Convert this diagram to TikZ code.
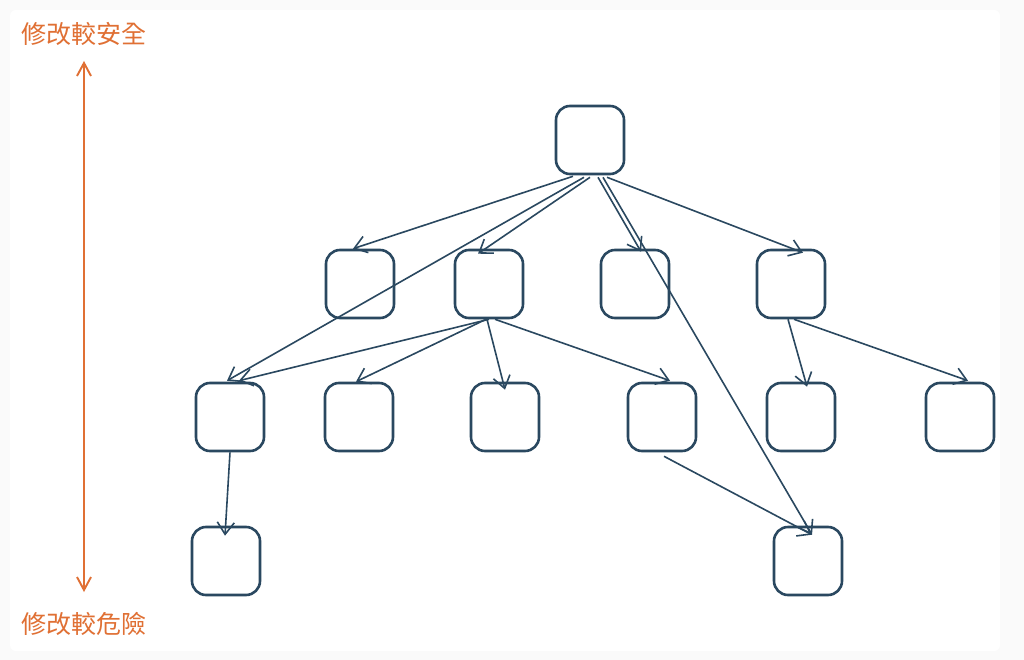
\documentclass[tikz,border=0pt]{standalone}
\usepackage{fontspec}
\newfontfamily\cjk{Noto Sans CJK TC}
\usetikzlibrary{arrows.meta}
\definecolor{ink}{RGB}{42,72,96}
\definecolor{accent}{RGB}{224,112,52}
\definecolor{outer}{RGB}{250,250,250}
\tikzset{
  box/.style={draw=ink, line width=2.6pt, rounded corners=14pt, minimum width=68pt, minimum height=68pt, inner sep=0pt},
  arr/.style={draw=ink, line width=1.6pt, -{Straight Barb[length=12pt,width=17pt,line width=1.6pt]}},
  safetyaxis/.style={draw=accent, line width=1.9pt, {Straight Barb[length=13pt,width=14pt,line width=1.9pt]}-{Straight Barb[length=13pt,width=14pt,line width=1.9pt]}},
  lbl/.style={text=accent, font=\cjk\fontsize{25pt}{28pt}\selectfont, anchor=west, inner sep=0pt}
}
\begin{document}
\begin{tikzpicture}[x=1pt,y=-1pt]
\fill[outer] (0,0) rectangle (1024,660);
\fill[white, rounded corners=6pt] (10,10) rectangle (1000,651);
\useasboundingbox (0,0) rectangle (1024,660);

% nodes
\node[box] (R) at (590,140) {};
\node[box] (A1) at (360,284) {};
\node[box] (A2) at (489,284) {};
\node[box] (A3) at (635,284) {};
\node[box] (A4) at (791,284) {};
\node[box] (B1) at (230,417) {};
\node[box] (B2) at (359,417) {};
\node[box] (B3) at (505,417) {};
\node[box] (B4) at (662,417) {};
\node[box] (B5) at (801,417) {};
\node[box] (B6) at (960,417) {};
\node[box] (C1) at (226,561) {};
\node[box] (C2) at (808,561) {};

% edges
\draw[arr] ([xshift=-17pt,yshift=-1pt]R.south) -- ([xshift=-7pt]A1.north);
\draw[arr] ([xshift=-6pt,yshift=-2pt]R.south) -- ([xshift=-3pt,yshift=1pt]B1.north);
\draw[arr] ([xshift=0pt,yshift=-2pt]R.south) -- ([xshift=-11pt,yshift=-5pt]A2.north);
\draw[arr] ([xshift=8pt,yshift=-2pt]R.south) -- ([xshift=6pt,yshift=-3pt]A3.north);
\draw[arr] ([xshift=13pt,yshift=-2pt]R.south) -- ([xshift=4pt,yshift=-9pt]C2.north);
\draw[arr] ([xshift=17pt,yshift=-2pt]R.south) -- ([xshift=12pt,yshift=-4pt]A4.north);
\draw[arr] ([xshift=0pt]A2.south) -- ([xshift=9pt,yshift=1pt]B1.north);
\draw[arr] ([xshift=-3pt]A2.south) -- ([xshift=-3pt]B2.north);
\draw[arr] ([xshift=-2pt]A2.south) -- ([xshift=0pt,yshift=-8pt]B3.north);
\draw[arr] ([xshift=6pt]A2.south) -- ([xshift=8pt,yshift=1pt]B4.north);
\draw[arr] ([xshift=-3pt]A4.south) -- ([xshift=6pt,yshift=-5pt]B5.north);
\draw[arr] ([xshift=3pt]A4.south) -- ([xshift=8pt,yshift=1pt]B6.north);
\draw[arr] (B1.south) -- ([xshift=-1pt,yshift=-10pt]C1.north);
\draw[arr] ([xshift=2pt,yshift=-4pt]B4.south) -- ([xshift=4pt,yshift=-9pt]C2.north);

% axis
\node[lbl] (top) at (21,34) {修改較安全};
\node[lbl] (bot) at (21,624) {修改較危險};
\coordinate (st) at (84,61);
\coordinate (sb) at (84,592);
\draw[safetyaxis] (st) -- (sb);
\end{tikzpicture}
\end{document}
